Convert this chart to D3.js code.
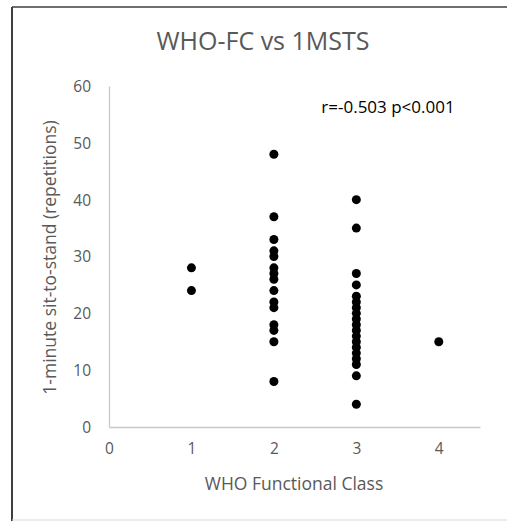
<!DOCTYPE html>
<html>
<head>
<meta charset="utf-8">
<script src="https://cdn.jsdelivr.net/npm/d3@7"></script>
<style>
  body { margin: 0; background: #fff; }
  text { font-family: "Open Sans", sans-serif; }
</style>
</head>
<body>
<div id="chart"></div>
<script>
// WHO functional class of each group
var classes = [1, 2, 3, 4];

// 1-minute sit-to-stand repetitions per class
var class1 = [28, 24];
var class2 = [48, 37, 33, 31, 30, 28, 27, 26, 24, 22, 21, 18, 17, 15, 8];
var class3 = [40, 35, 27, 25, 23, 22, 21, 20, 19, 18, 17, 16, 15, 14, 13, 12, 11, 9, 4];
var class4 = [15];

var xTicks = [0, 1, 2, 3, 4];
var yTicks = [0, 10, 20, 30, 40, 50, 60];

var chartTitle = "WHO-FC vs 1MSTS";
var xTitle = "WHO Functional Class";
var yTitle = "1-minute sit-to-stand (repetitions)";
var note = "r=-0.503 p<0.001";

var groups = [class1, class2, class3, class4];
var data = [];
groups.forEach(function (vals, i) {
  vals.forEach(function (v) {
    data.push({ cls: classes[i], reps: v });
  });
});

var width = 507, height = 521;
var margin = { top: 86, right: 27, bottom: 94, left: 109 };
var innerW = width - margin.left - margin.right;
var innerH = height - margin.top - margin.bottom;

var svg = d3.select("#chart").append("svg")
  .attr("width", width)
  .attr("height", height);

// chart frame
svg.append("line").attr("x1", 12).attr("x2", 12).attr("y1", 7).attr("y2", height)
  .attr("stroke", "#3f3f3f").attr("stroke-width", 2);
svg.append("line").attr("x1", 12).attr("x2", width).attr("y1", 7).attr("y2", 7)
  .attr("stroke", "#3f3f3f").attr("stroke-width", 1.5);
svg.append("line").attr("x1", 12).attr("x2", width).attr("y1", 520).attr("y2", 520)
  .attr("stroke", "#d9d9d9").attr("stroke-width", 1);

var g = svg.append("g")
  .attr("transform", "translate(" + margin.left + "," + margin.top + ")");

var x = d3.scaleLinear().domain([0, 4.5]).range([0, innerW]);
var y = d3.scaleLinear().domain([0, 60]).range([innerH, 0]);

var xAxis = d3.axisBottom(x).tickValues(xTicks).tickSize(0).tickPadding(16)
  .tickFormat(d3.format("d"));
var yAxis = d3.axisLeft(y).tickValues(yTicks).tickSize(0).tickPadding(18)
  .tickFormat(d3.format("d"));

var gx = g.append("g").attr("transform", "translate(0," + innerH + ")").call(xAxis);
var gy = g.append("g").call(yAxis);

[gx, gy].forEach(function (a) {
  a.select(".domain").attr("stroke", "#c8c8c8").attr("stroke-width", 1.3);
  a.selectAll("text")
    .attr("fill", "#595959")
    .style("font-size", "15.5px")
    .style("font-family", "Open Sans, sans-serif");
});
gy.selectAll("text").attr("dy", "0.35em");

// points
g.selectAll("circle.pt")
  .data(data)
  .enter().append("circle")
  .attr("class", "pt")
  .attr("cx", function (d) { return x(d.cls); })
  .attr("cy", function (d) { return y(d.reps); })
  .attr("r", 4.5)
  .attr("fill", "#000");

// titles
svg.append("text")
  .attr("x", 263).attr("y", 50)
  .attr("text-anchor", "middle")
  .attr("fill", "#595959")
  .style("font-size", "25px")
  .text(chartTitle);

svg.append("text")
  .attr("x", 294).attr("y", 490)
  .attr("text-anchor", "middle")
  .attr("fill", "#595959")
  .style("font-size", "17.5px")
  .text(xTitle);

svg.append("text")
  .attr("transform", "translate(56," + (margin.top + innerH / 2 + 1) + ") rotate(-90)")
  .attr("text-anchor", "middle")
  .attr("fill", "#595959")
  .style("font-size", "17.5px")
  .text(yTitle);

svg.append("text")
  .attr("x", 388).attr("y", 113)
  .attr("text-anchor", "middle")
  .attr("fill", "#000")
  .style("font-size", "17px")
  .text(note);
</script>
</body>
</html>
